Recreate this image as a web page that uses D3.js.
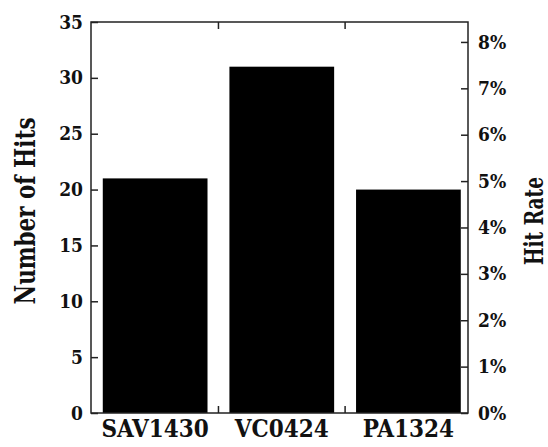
<!DOCTYPE html>
<html>
<head>
<meta charset="utf-8">
<script src="https://cdn.jsdelivr.net/npm/d3@7"></script>
<style>
  body { margin: 0; background: #fff; }
  svg text { font-family: "DejaVu Serif Condensed", "DejaVu Serif", serif; font-weight: bold; fill: #111; }
</style>
</head>
<body>
<div id="chart"></div>
<script>
const categories = ['SAV1430', 'VC0424', 'PA1324']
const hits = [21, 31, 20]
const hitTicks = [0, 5, 10, 15, 20, 25, 30, 35]
const rateTicks = [0, 1, 2, 3, 4, 5, 6, 7, 8]

const WIDTH = 548
const HEIGHT = 447
const MARGIN = { LEFT: 91, RIGHT: 80, TOP: 22, BOTTOM: 34 }

const svg = d3.select('#chart').append('svg')
  .attr('width', WIDTH)
  .attr('height', HEIGHT)

const x0 = MARGIN.LEFT
const x1 = WIDTH - MARGIN.RIGHT
const y0 = HEIGHT - MARGIN.BOTTOM
const y1 = MARGIN.TOP

const x = d3.scaleBand().domain(categories).range([x0, x1])
  .paddingInner(0.173).paddingOuter(0.075).align(0.62)
const y = d3.scaleLinear().domain([0, 35]).range([y0, y1])
const yRate = d3.scaleLinear().domain([0, 8.43]).range([y0, y1])

// bars
svg.selectAll('rect.bar')
  .data(hits)
  .join('rect')
  .attr('class', 'bar')
  .attr('x', (d, i) => x(categories[i]))
  .attr('width', x.bandwidth())
  .attr('y', d => y(d))
  .attr('height', d => y0 - y(d))
  .attr('fill', '#000')

// frame
svg.append('rect')
  .attr('x', x0).attr('y', y1)
  .attr('width', x1 - x0).attr('height', y0 - y1)
  .attr('fill', 'none').attr('stroke', '#222').attr('stroke-width', 1.5)

// left axis, ticks inward
const left = svg.append('g')
  .attr('transform', `translate(${x0},0)`)
  .call(d3.axisLeft(y).tickValues(hitTicks).tickSizeInner(-7).tickSizeOuter(0).tickPadding(8))
left.attr('font-family', null)
left.select('.domain').remove()
left.selectAll('line').attr('stroke', '#222').attr('stroke-width', 1.5)
left.selectAll('text')
  .style('font-size', '19px')
  .attr('fill', '#111')

// right axis, ticks inward
const right = svg.append('g')
  .attr('transform', `translate(${x1},0)`)
  .call(d3.axisRight(yRate).tickValues(rateTicks).tickFormat(d => d + '%')
    .tickSizeInner(-7).tickSizeOuter(0).tickPadding(10))
right.attr('font-family', null)
right.select('.domain').remove()
right.selectAll('line').attr('stroke', '#222').attr('stroke-width', 1.5)
right.selectAll('text')
  .style('font-size', '19px')
  .attr('fill', '#111')

// category separators (bottom up, top down)
const bounds = categories.slice(1).map(c => x(c) - x.step() * x.paddingInner() / 2)
svg.selectAll('line.sepB')
  .data(bounds)
  .join('line')
  .attr('x1', d => d).attr('x2', d => d)
  .attr('y1', y0).attr('y2', y0 - 7)
  .attr('stroke', '#222').attr('stroke-width', 1.5)
svg.selectAll('line.sepT')
  .data(bounds)
  .join('line')
  .attr('x1', d => d).attr('x2', d => d)
  .attr('y1', y1).attr('y2', y1 + 7)
  .attr('stroke', '#222').attr('stroke-width', 1.5)

// category labels
svg.selectAll('text.cat')
  .data(categories)
  .join('text')
  .attr('class', 'cat')
  .attr('x', d => x(d) + x.bandwidth() / 2)
  .attr('y', 437)
  .attr('text-anchor', 'middle')
  .style('font-size', '24px')
  .text(d => d)

// axis titles
svg.append('text')
  .attr('transform', `translate(35,211) rotate(-90)`)
  .attr('text-anchor', 'middle')
  .style('font-size', '27px')
  .attr('textLength', 187)
  .attr('lengthAdjust', 'spacingAndGlyphs')
  .text('Number of Hits')

svg.append('text')
  .attr('transform', `translate(543,221) rotate(-90)`)
  .attr('text-anchor', 'middle')
  .style('font-size', '26px')
  .attr('textLength', 88)
  .attr('lengthAdjust', 'spacingAndGlyphs')
  .text('Hit Rate')
</script>
</body>
</html>
